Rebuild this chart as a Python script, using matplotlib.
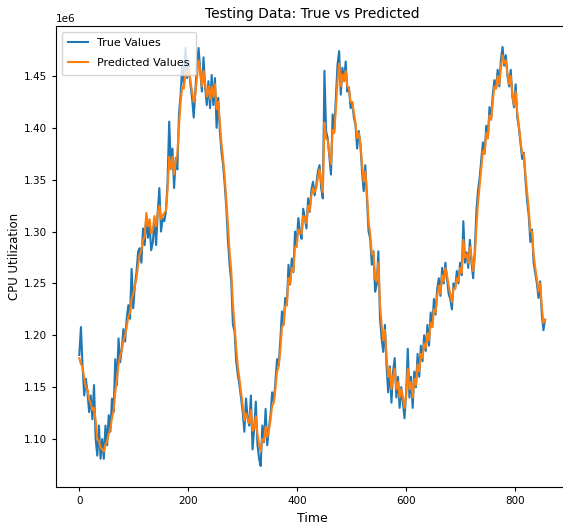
import numpy as np
import matplotlib.pyplot as plt

# sampled every 3 time steps, values in units of 1e6
time = np.arange(0, 856, 3)

true_vals = [
    1.181, 1.208, 1.169, 1.142, 1.158, 1.145, 1.126, 1.142, 1.119, 1.152,
    1.100, 1.084, 1.113, 1.081, 1.100, 1.081, 1.113, 1.094, 1.123, 1.107,
    1.139, 1.126, 1.177, 1.152, 1.197, 1.174, 1.187, 1.206, 1.194, 1.216,
    1.229, 1.216, 1.264, 1.226, 1.248, 1.261, 1.281, 1.284, 1.270, 1.303,
    1.287, 1.315, 1.294, 1.306, 1.282, 1.290, 1.313, 1.287, 1.319, 1.342,
    1.300, 1.313, 1.310, 1.319, 1.348, 1.406, 1.364, 1.380, 1.342, 1.371,
    1.360, 1.413, 1.432, 1.461, 1.442, 1.477, 1.448, 1.464, 1.442, 1.429,
    1.410, 1.435, 1.461, 1.477, 1.455, 1.435, 1.468, 1.439, 1.422, 1.445,
    1.419, 1.451, 1.422, 1.448, 1.400, 1.429, 1.397, 1.377, 1.364, 1.345,
    1.322, 1.290, 1.268, 1.251, 1.210, 1.204, 1.175, 1.162, 1.152, 1.139,
    1.126, 1.107, 1.139, 1.120, 1.113, 1.142, 1.090, 1.110, 1.136, 1.095,
    1.081, 1.074, 1.113, 1.097, 1.129, 1.094, 1.110, 1.123, 1.145, 1.136,
    1.155, 1.177, 1.171, 1.195, 1.223, 1.210, 1.236, 1.229, 1.268, 1.249,
    1.274, 1.261, 1.300, 1.287, 1.313, 1.300, 1.293, 1.322, 1.313, 1.303,
    1.332, 1.319, 1.340, 1.348, 1.335, 1.345, 1.358, 1.364, 1.342, 1.332,
    1.455, 1.397, 1.390, 1.372, 1.355, 1.413, 1.397, 1.429, 1.461, 1.474,
    1.432, 1.458, 1.445, 1.464, 1.435, 1.439, 1.419, 1.425, 1.410, 1.403,
    1.380, 1.397, 1.384, 1.358, 1.339, 1.364, 1.332, 1.300, 1.293, 1.268,
    1.281, 1.242, 1.249, 1.281, 1.216, 1.197, 1.184, 1.210, 1.171, 1.145,
    1.170, 1.135, 1.165, 1.178, 1.140, 1.160, 1.130, 1.150, 1.135, 1.120,
    1.145, 1.187, 1.140, 1.160, 1.130, 1.165, 1.150, 1.182, 1.160, 1.190,
    1.175, 1.200, 1.185, 1.210, 1.190, 1.222, 1.208, 1.235, 1.220, 1.245,
    1.255, 1.238, 1.265, 1.250, 1.270, 1.255, 1.240, 1.235, 1.225, 1.250,
    1.245, 1.262, 1.250, 1.270, 1.258, 1.310, 1.270, 1.280, 1.265, 1.292,
    1.270, 1.255, 1.282, 1.320, 1.340, 1.352, 1.370, 1.386, 1.375, 1.402,
    1.390, 1.420, 1.408, 1.432, 1.446, 1.438, 1.456, 1.440, 1.466, 1.478,
    1.460, 1.470, 1.450, 1.440, 1.456, 1.430, 1.420, 1.442, 1.410, 1.400,
    1.385, 1.370, 1.376, 1.350, 1.330, 1.316, 1.290, 1.302, 1.270, 1.260,
    1.250, 1.236, 1.252, 1.220, 1.205, 1.215,
]

pred_vals = [
    1.178, 1.172, 1.170, 1.158, 1.150, 1.148, 1.138, 1.135, 1.128, 1.130,
    1.118, 1.100, 1.098, 1.092, 1.090, 1.088, 1.095, 1.098, 1.105, 1.110,
    1.120, 1.128, 1.145, 1.158, 1.172, 1.180, 1.185, 1.195, 1.200, 1.208,
    1.218, 1.222, 1.235, 1.240, 1.248, 1.255, 1.268, 1.278, 1.282, 1.292,
    1.295, 1.318, 1.305, 1.312, 1.298, 1.302, 1.315, 1.305, 1.318, 1.325,
    1.312, 1.315, 1.318, 1.320, 1.340, 1.372, 1.360, 1.372, 1.355, 1.368,
    1.375, 1.402, 1.425, 1.440, 1.438, 1.455, 1.450, 1.458, 1.445, 1.435,
    1.425, 1.432, 1.448, 1.465, 1.455, 1.440, 1.455, 1.442, 1.430, 1.440,
    1.428, 1.440, 1.430, 1.442, 1.418, 1.425, 1.405, 1.385, 1.370, 1.352,
    1.330, 1.305, 1.280, 1.262, 1.230, 1.210, 1.188, 1.170, 1.158, 1.145,
    1.132, 1.118, 1.125, 1.120, 1.115, 1.128, 1.108, 1.110, 1.122, 1.105,
    1.095, 1.088, 1.100, 1.098, 1.112, 1.102, 1.108, 1.118, 1.132, 1.135,
    1.148, 1.165, 1.170, 1.185, 1.208, 1.210, 1.228, 1.230, 1.255, 1.250,
    1.265, 1.262, 1.285, 1.285, 1.302, 1.300, 1.298, 1.315, 1.312, 1.308,
    1.325, 1.320, 1.335, 1.342, 1.338, 1.342, 1.352, 1.360, 1.348, 1.338,
    1.405, 1.390, 1.388, 1.375, 1.365, 1.398, 1.395, 1.418, 1.445, 1.462,
    1.440, 1.452, 1.445, 1.455, 1.440, 1.438, 1.425, 1.425, 1.415, 1.405,
    1.390, 1.395, 1.385, 1.365, 1.348, 1.358, 1.338, 1.310, 1.298, 1.278,
    1.280, 1.255, 1.252, 1.270, 1.230, 1.210, 1.195, 1.205, 1.180, 1.160,
    1.168, 1.148, 1.160, 1.168, 1.148, 1.155, 1.140, 1.148, 1.140, 1.130,
    1.142, 1.168, 1.148, 1.155, 1.140, 1.158, 1.152, 1.172, 1.165, 1.182,
    1.178, 1.192, 1.188, 1.202, 1.195, 1.212, 1.208, 1.225, 1.222, 1.238,
    1.248, 1.240, 1.258, 1.252, 1.265, 1.258, 1.248, 1.240, 1.232, 1.245,
    1.245, 1.255, 1.252, 1.265, 1.260, 1.292, 1.275, 1.278, 1.270, 1.285,
    1.275, 1.262, 1.275, 1.305, 1.328, 1.345, 1.362, 1.378, 1.375, 1.395,
    1.390, 1.412, 1.408, 1.425, 1.440, 1.438, 1.450, 1.442, 1.458, 1.470,
    1.462, 1.465, 1.452, 1.442, 1.450, 1.432, 1.422, 1.435, 1.415, 1.402,
    1.388, 1.375, 1.375, 1.355, 1.338, 1.322, 1.300, 1.300, 1.278, 1.265,
    1.255, 1.242, 1.250, 1.228, 1.212, 1.215,
]

plt.rcParams['font.family'] = ['DejaVu Sans']

fig = plt.figure(figsize=(5.63, 5.31), dpi=100)
ax = fig.add_axes([0.0995, 0.083, 0.91, 0.868])

ax.plot(time, np.array(true_vals) * 1e6, label='True Values', linewidth=1.5)
ax.plot(time, np.array(pred_vals) * 1e6, label='Predicted Values', linewidth=1.5)

ax.set_title('Testing Data: True vs Predicted', fontsize=10)
ax.set_xlabel('Time', fontsize=9)
ax.set_ylabel('CPU Utilization', fontsize=8.5)
ax.yaxis.set_label_coords(-0.068, 0.5)
ax.set_xticks([0, 200, 400, 600, 800])
ax.tick_params(labelsize=7.5, length=3)
ax.yaxis.get_offset_text().set_fontsize(7.5)
ax.legend(loc='upper left', fontsize=8, labelspacing=0.9, borderpad=0.6,
          handlelength=1.8)

plt.savefig('out.png', dpi=100)
